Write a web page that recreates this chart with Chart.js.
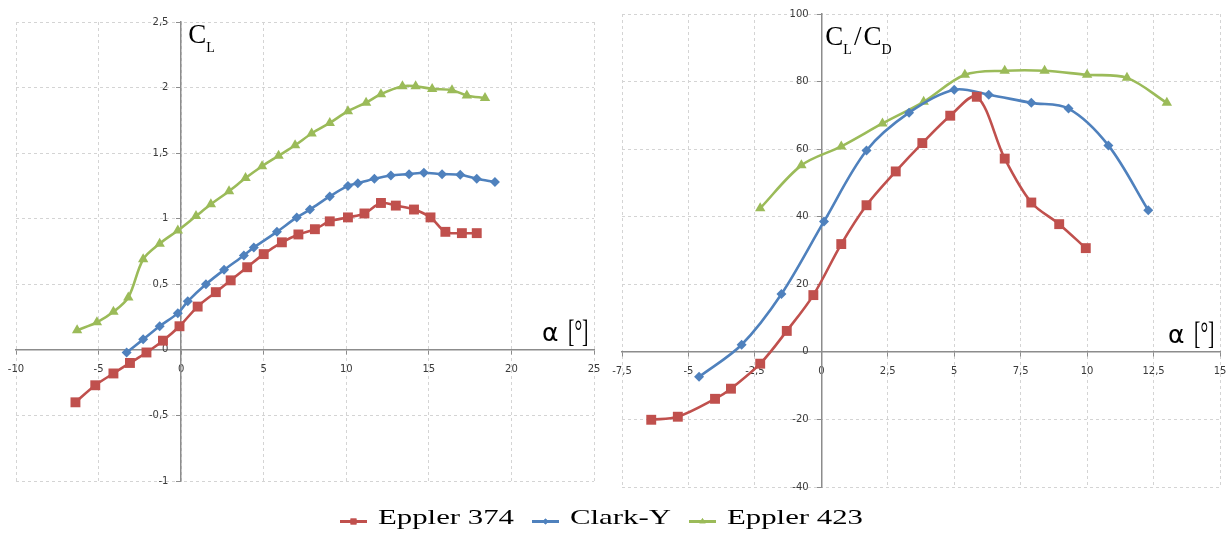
<!DOCTYPE html>
<html>
<head>
<meta charset="utf-8">
<script src="https://cdn.jsdelivr.net/npm/chart.js@4.4.1/dist/chart.umd.min.js"></script>
<style>
  body { margin: 0; background: #fff; width: 1229px; height: 536px; position: relative; overflow: hidden; }
  /* canvases carry 22px of padding round the plot area */
  #leftChart { position: absolute; left: -6px; top: 0; }
  #rightChart { position: absolute; left: 600px; top: -8px; }
  #legend { position: absolute; left: 0; top: 0; width: 1229px; height: 536px; pointer-events: none; }
  .lg-mark { position: absolute; }
  .lg-text { position: absolute; font: 22px "Liberation Serif", serif; line-height: 22px; color: #000;
             white-space: nowrap; transform-origin: left top; }
</style>
</head>
<body>
<canvas id="leftChart" width="622" height="503"></canvas>
<canvas id="rightChart" width="642" height="517"></canvas>
<div id="legend"></div>

<script>
// series
const seriesNames = ['Eppler 374', 'Clark-Y', 'Eppler 423'];

// lift coefficient C_L vs angle of attack
const clAlpha374 = [-6.4, -5.2, -4.1, -3.1, -2.1, -1.1, -0.1, 1.0, 2.1, 3.0, 4.0, 5.0, 6.1, 7.1, 8.1, 9.0, 10.1, 11.1, 12.1, 13.0, 14.1, 15.1, 16.0, 17.0, 17.9];
const clValue374 = [-0.40, -0.27, -0.18, -0.10, -0.02, 0.07, 0.18, 0.33, 0.44, 0.53, 0.63, 0.73, 0.82, 0.88, 0.92, 0.98, 1.01, 1.04, 1.12, 1.10, 1.07, 1.01, 0.90, 0.89, 0.89];
const clAlphaClark = [-3.3, -2.3, -1.3, -0.2, 0.4, 1.5, 2.6, 3.8, 4.4, 5.8, 7.0, 7.8, 9.0, 10.1, 10.7, 11.7, 12.7, 13.8, 14.7, 15.8, 16.9, 17.9, 19.0];
const clValueClark = [-0.02, 0.08, 0.18, 0.28, 0.37, 0.50, 0.61, 0.72, 0.78, 0.90, 1.01, 1.07, 1.17, 1.25, 1.27, 1.305, 1.33, 1.34, 1.35, 1.34, 1.335, 1.305, 1.28];
const clAlpha423 = [-6.3, -5.1, -4.1, -3.2, -2.3, -1.3, -0.2, 0.9, 1.8, 2.9, 3.9, 4.9, 5.9, 6.9, 7.9, 9.0, 10.1, 11.2, 12.1, 13.4, 14.2, 15.2, 16.4, 17.3, 18.4];
const clValue423 = [0.15, 0.21, 0.29, 0.40, 0.69, 0.81, 0.91, 1.02, 1.11, 1.21, 1.31, 1.40, 1.48, 1.56, 1.65, 1.73, 1.82, 1.885, 1.95, 2.01, 2.01, 1.99, 1.98, 1.94, 1.92];

// glide ratio C_L/C_D vs angle of attack
const ldAlpha374 = [-6.4, -5.4, -4.0, -3.4, -2.3, -1.3, -0.3, 0.75, 1.7, 2.8, 3.8, 4.85, 5.85, 6.9, 7.9, 8.95, 9.95];
const ldValue374 = [-20.1, -19.2, -13.9, -10.9, -3.5, 6.2, 16.8, 31.9, 43.4, 53.4, 61.8, 69.9, 75.5, 57.2, 44.2, 37.8, 30.7];
const ldAlphaClark = [-4.6, -3.0, -1.5, 0.1, 1.7, 3.3, 5.0, 6.3, 7.9, 9.3, 10.8, 12.3];
const ldValueClark = [-7.4, 2.1, 17.1, 38.6, 59.6, 70.8, 77.6, 76.1, 73.7, 72.0, 61.1, 41.9];
const ldAlpha423 = [-2.3, -0.75, 0.75, 2.3, 3.85, 5.4, 6.9, 8.4, 10.0, 11.5, 13.0];
const ldValue423 = [42.5, 55.2, 60.8, 67.6, 74.0, 82.0, 83.2, 83.2, 82.0, 81.1, 73.7];

// axes ranges / ticks
const clXTicks = [-10, 25, 5];
const clYTicks = [-1, 2.5, 0.5];
const ldXTicks = [-7.5, 15, 2.5];
const ldYTicks = [-40, 100, 20];

// styles
const colors = ['#C0504D', '#4F81BD', '#9BBB59'];
const pointStyles = ['rect', 'rectRot', 'triangle'];
const pointRadius = [7, 5, 6];
const gridColor = '#d4d4d4';
const axisColor = '#8c8c8c';
const tickFont = { family: 'DejaVu Sans', size: 10 };

const fmt = v => String(v).replace('.', ',');
// y labels sit at the crossing axis; trailing spaces keep them off the line
const fmtY = v => fmt(v) + '    ';
const toPoints = (xs, ys) => xs.map((x, i) => ({ x: x, y: ys[i] }));

function makeDatasets(pairs) {
    return pairs.map((p, i) => ({
        label: seriesNames[i],
        data: toPoints(p[0], p[1]),
        showLine: true,
        borderColor: colors[i],
        backgroundColor: colors[i],
        borderWidth: 2.6,
        pointStyle: pointStyles[i],
        pointRadius: pointRadius[i],
        pointBorderWidth: 0,
        tension: 0.33
    }));
}

function axis(range, pos, pad, cb) {
    return {
        type: 'linear',
        min: range[0], max: range[1],
        position: pos,
        ticks: { stepSize: range[2], callback: cb, font: tickFont, color: '#3a3a3a', padding: pad, maxRotation: 0, autoSkip: false },
        grid: { color: gridColor, tickLength: 4, tickColor: axisColor, tickWidth: 1 },
        border: { color: axisColor, width: 1.5, dash: [3, 3] }
    };
}

// quantity names drawn next to the axes
function titlePlugin(parts, dx, dy) {
    return {
        id: 'axisTitles',
        afterDatasetsDraw(chart) {
            const { ctx, chartArea, scales } = chart;
            ctx.save();
            ctx.fillStyle = '#000';
            ctx.textBaseline = 'alphabetic';
            let px = scales.x.getPixelForValue(0) + dx;
            const base = chartArea.top + dy;
            parts.forEach(([main, sub, gap]) => {
                ctx.font = '27px "Liberation Serif"';
                ctx.fillText(main, px, base);
                px += ctx.measureText(main).width;
                if (sub) {
                    ctx.font = '14px "Liberation Serif"';
                    ctx.fillText(sub, px, base + 9);
                    px += ctx.measureText(sub).width;
                }
                px += gap;
            });
            // alpha [deg]
            const y0 = scales.y.getPixelForValue(0);
            const ax = chartArea.right - 52;
            ctx.font = '25px "DejaVu Sans"';
            ctx.fillText('α', ax, y0 - 9);
            ctx.translate(ax + 26, y0 - 8);
            ctx.scale(0.6, 1);
            ctx.font = '32px "Liberation Serif"';
            ctx.fillText('[°]', 0, 0);
            ctx.restore();
        }
    };
}

const pad = 22;

new Chart(document.getElementById('leftChart'), {
    type: 'scatter',
    data: { datasets: makeDatasets([[clAlpha374, clValue374], [clAlphaClark, clValueClark], [clAlpha423, clValue423]]) },
    options: {
        responsive: false,
        animation: false,
        layout: { padding: pad },
        plugins: { legend: { display: false }, tooltip: { enabled: false } },
        scales: {
            x: axis(clXTicks, { y: 0 }, 10, fmt),
            y: axis(clYTicks, { x: 0 }, 9, fmtY)
        }
    },
    plugins: [titlePlugin([['C', 'L', 0]], 7, 21)]
});

new Chart(document.getElementById('rightChart'), {
    type: 'scatter',
    data: { datasets: makeDatasets([[ldAlpha374, ldValue374], [ldAlphaClark, ldValueClark], [ldAlpha423, ldValue423]]) },
    options: {
        responsive: false,
        animation: false,
        layout: { padding: pad },
        plugins: { legend: { display: false }, tooltip: { enabled: false } },
        scales: {
            x: axis(ldXTicks, { y: 0 }, 10, fmt),
            y: axis(ldYTicks, { x: 0 }, 9, fmtY)
        }
    },
    plugins: [titlePlugin([['C', 'L', 2], ['/', null, 2], ['C', 'D', 0]], 4, 31)]
});

// shared legend under both charts
const legend = document.getElementById('legend');
const measure = document.createElement('canvas').getContext('2d');
measure.font = '22px "Liberation Serif"';
const stretch = 1.4;
let lx = 340;
seriesNames.forEach((name, i) => {
    const mk = document.createElement('canvas');
    mk.width = 27; mk.height = 13;
    mk.className = 'lg-mark';
    mk.style.left = lx + 'px';
    mk.style.top = '515px';
    const c = mk.getContext('2d');
    c.strokeStyle = colors[i];
    c.fillStyle = colors[i];
    c.lineWidth = 3;
    c.beginPath(); c.moveTo(0, 6.5); c.lineTo(27, 6.5); c.stroke();
    Chart.helpers.drawPoint(c, { pointStyle: pointStyles[i], radius: pointRadius[i] * 0.6, borderWidth: 0, rotation: 0 }, 13.5, 6.5);
    c.fill();
    legend.appendChild(mk);
    lx += 27 + 11;

    const t = document.createElement('div');
    t.className = 'lg-text';
    t.textContent = name;
    t.style.left = lx + 'px';
    t.style.top = '506px';
    t.style.transform = 'scaleX(' + stretch + ')';
    legend.appendChild(t);
    lx += measure.measureText(name).width * stretch + 18;
});
</script>
</body>
</html>
